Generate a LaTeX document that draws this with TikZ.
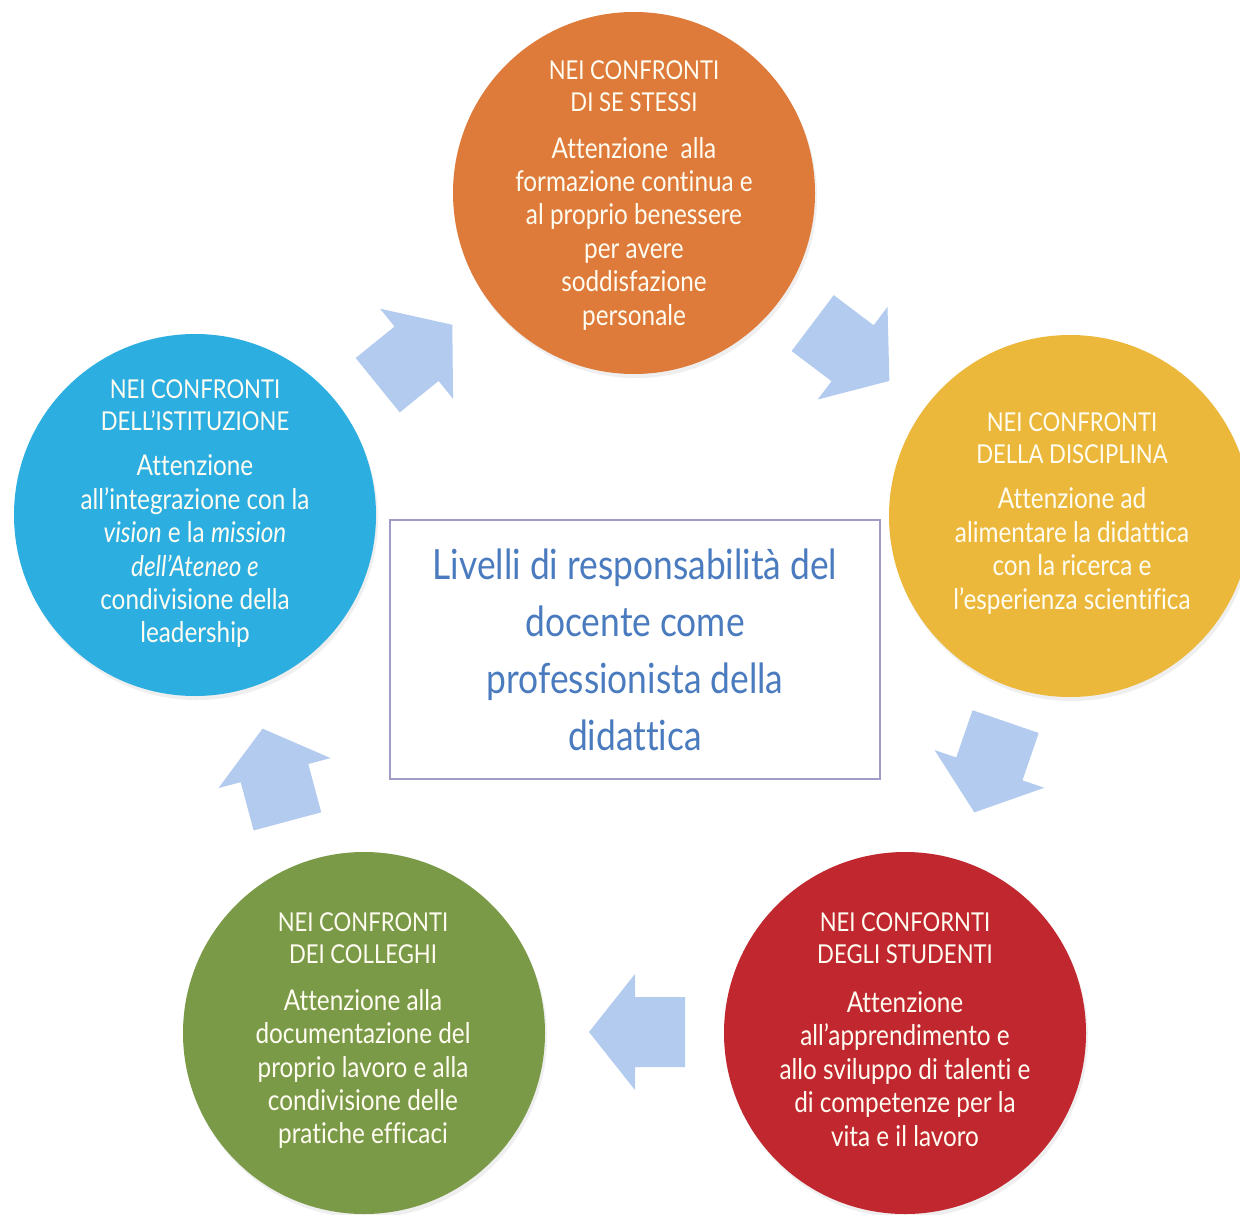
\documentclass[tikz,border=0pt]{standalone}
\usepackage{fontspec}
\setmainfont{Lato}[FakeStretch=0.85, Ligatures={NoCommon}]
\usetikzlibrary{shadows}
\definecolor{corange}{HTML}{DE7B3A}
\definecolor{cyellow}{HTML}{ECB83C}
\definecolor{cblue}{HTML}{2DAEE0}
\definecolor{cgreen}{HTML}{7B9A48}
\definecolor{cred}{HTML}{C1272F}
\definecolor{ctext}{HTML}{FFFDF2}
\definecolor{carrow}{HTML}{B3CBEF}
\definecolor{cboxline}{HTML}{A09CC8}
\definecolor{ctitle}{HTML}{4A7BBF}
\tikzset{
  bubble/.style={circle, minimum size=181pt, inner sep=0pt, draw=none,
    drop shadow={opacity=0.12, shadow xshift=1pt, shadow yshift=-2pt}},
  headtxt/.style={text=ctext, align=center, inner sep=0pt, font=\fontsize{13}{16}\selectfont},
  bodytxt/.style={text=ctext, align=center, inner sep=0pt, font=\fontsize{14.3}{16.7}\selectfont},
  flow/.style={fill=carrow, draw=none},
  titlebox/.style={draw=cboxline, line width=0.75pt, fill=white, minimum width=245pt,
    minimum height=129.5pt, inner sep=0pt, align=center, text=ctitle,
    font=\fontsize{20.8}{28.5}\selectfont}
}
\newcommand{\cyclearrow}[3]{%
  \begin{scope}[shift={(#1,#2)}, rotate=#3]
    \fill[flow] (-48,-35) -- (2,-35) -- (2,-58) -- (48,0) -- (2,58) -- (2,35) -- (-48,35) -- cycle;
  \end{scope}}
\begin{document}
\begin{tikzpicture}[x=0.5pt,y=-0.5pt]
\useasboundingbox (0,0) rectangle (1240,1214);
\clip (0,0) rectangle (1240,1214);
\fill[white] (0,0) rectangle (1240,1214);

% circles
\node[bubble, fill=corange] (c1) at (634,193) {};
\node[bubble, fill=cyellow] (c2) at (1070,516) {};
\node[bubble, fill=cred] (c3) at (905,1033) {};
\node[bubble, fill=cgreen] (c4) at (364,1033) {};
\node[bubble, fill=cblue] (c5) at (195,515) {};

% centre box
\node[titlebox] (center) at (635,649.5) {Livelli di responsabilità del\\docente come\\professionista della\\didattica};

% arrows
\cyclearrow{415}{355}{39}
\cyclearrow{851}{352}{-37}
\cyclearrow{990}{767}{-109}
\cyclearrow{637}{1032}{180}
\cyclearrow{275}{775}{105}

% texts
\node[headtxt] (h1) at (634,86) {NEI CONFRONTI\\DI SE STESSI};
\node[bodytxt] (b1) at (634,233.5) {Attenzione\ \ alla\\formazione continua e\\al proprio benessere\\per avere\\soddisfazione\\personale};

\node[headtxt] (h2) at (1072,438.5) {NEI CONFRONTI\\DELLA DISCIPLINA};
\node[bodytxt] (b2) at (1072,551) {Attenzione ad\\alimentare la didattica\\con la ricerca e\\l’esperienza scientifica};

\node[headtxt] (h3) at (905,938.5) {NEI CONFORNTI\\DEGLI STUDENTI};
\node[bodytxt] (b3) at (905,1069) {Attenzione\\all’apprendimento e\\allo sviluppo di talenti e\\di competenze per la\\vita e il lavoro};

\node[headtxt] (h4) at (363,938.5) {NEI CONFRONTI\\DEI COLLEGHI};
\node[bodytxt] (b4) at (363,1069) {Attenzione alla\\documentazione del\\proprio lavoro e alla\\condivisione delle\\pratiche efficaci};

\node[headtxt] (h5) at (195,405.5) {NEI CONFRONTI\\DELL’ISTITUZIONE};
\node[bodytxt] (b5) at (195,551.5) {Attenzione\\all’integrazione con la\\\textit{vision} e la \textit{mission}\\\textit{dell’Ateneo e}\\condivisione della\\leadership};
\end{tikzpicture}
\end{document}
